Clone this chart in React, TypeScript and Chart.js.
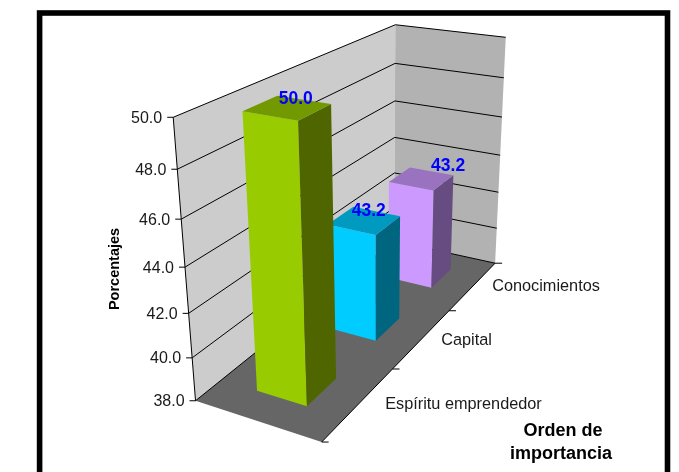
import React, { useEffect, useRef } from "react";
import { Chart, registerables, LinearScale } from "chart.js";

const categories = ["Espíritu emprendedor", "Capital", "Conocimientos"];
const values = [50.0, 43.2, 43.2];
const frontColors = ["#99CC00", "#00CCFF", "#CC99FF"];
const sideColors = ["#4F6600", "#006680", "#664C80"];
const topColors = ["#739900", "#0099BF", "#9973BF"];
const yMin = 38;
const yMax = 50;
const yStep = 2;
const FONT = "'Liberation Sans', Arial, sans-serif";

// camera calibration: [x, depth, height, screenX, screenY] of the plot box
const calibration: number[][] = [
  [0, 0, 1, 173.5, 117], [0, 0, 5 / 6, 177.3, 169.5], [0, 0, 4 / 6, 181.7, 219], [0, 0, 3 / 6, 185, 267.7],
  [0, 0, 2 / 6, 188.3, 313.7], [0, 0, 1 / 6, 191.7, 358], [0, 0, 0, 195, 400],
  [0, 1, 1, 395, 25.5], [0, 1, 5 / 6, 395, 63], [0, 1, 4 / 6, 395, 101], [0, 1, 3 / 6, 394.5, 136.7],
  [0, 1, 2 / 6, 394.5, 173.3], [0, 1, 0, 395, 241],
  [1, 1, 1, 505.7, 37], [1, 1, 5 / 6, 504, 78.3], [1, 1, 4 / 6, 502.7, 115.7], [1, 1, 3 / 6, 499.7, 155.3],
  [1, 1, 2 / 6, 498, 192.7], [1, 1, 1 / 6, 497, 229], [1, 1, 0, 494.5, 263],
  [1, 0, 0, 322, 442], [1, 0, 0, 322, 442],
];

function solveCamera(points: number[][]): number[] {
  const S = 500;
  const n = 11;
  const A: number[][] = Array.from({ length: n }, () => new Array(n + 1).fill(0));
  const add = (row: number[], rhs: number) => {
    for (let i = 0; i < n; i++) {
      for (let j = 0; j < n; j++) A[i][j] += row[i] * row[j];
      A[i][n] += row[i] * rhs;
    }
  };
  for (const [X, Z, Y, u0, v0] of points) {
    const u = u0 / S;
    const v = v0 / S;
    add([X, Y, Z, 1, 0, 0, 0, 0, -u * X, -u * Y, -u * Z], u);
    add([0, 0, 0, 0, X, Y, Z, 1, -v * X, -v * Y, -v * Z], v);
  }
  for (let c = 0; c < n; c++) {
    let p = c;
    for (let r = c + 1; r < n; r++) if (Math.abs(A[r][c]) > Math.abs(A[p][c])) p = r;
    [A[c], A[p]] = [A[p], A[c]];
    for (let r = 0; r < n; r++) {
      if (r === c) continue;
      const f = A[r][c] / A[c][c];
      for (let k = c; k <= n; k++) A[r][k] -= f * A[c][k];
    }
  }
  const out = A.map((row, i) => row[n] / row[i]);
  return out.map((q, i) => (i < 8 ? q * S : q));
}

const cam = solveCamera(calibration);
function project(x: number, depth: number, h: number): [number, number] {
  const w = cam[8] * x + cam[9] * h + cam[10] * depth + 1;
  return [
    (cam[0] * x + cam[1] * h + cam[2] * depth + cam[3]) / w,
    (cam[4] * x + cam[5] * h + cam[6] * depth + cam[7]) / w,
  ];
}

class ProjectedScale extends (LinearScale as any) {
  static id = "projected";
  static defaults = (LinearScale as any).defaults;
  getHeightFraction(value: number) {
    return (value - this.min) / (this.max - this.min);
  }
  getPixelForValue(value: number) {
    return project(0, 0, this.getHeightFraction(value))[1];
  }
  _computeLabelArea() {
    return undefined;
  }
  _computeLabelItems(chartArea: any) {
    const items = super._computeLabelItems(chartArea);
    items.forEach((item: any, i: number) => {
      const [px, py] = project(0, 0, this.getHeightFraction(this.ticks[i].value));
      item.options.translation = [px - 11, py + 1];
      item.options.textAlign = "right";
      item.options.textBaseline = "middle";
      item.textOffset = 0;
    });
    return items;
  }
}

const BAR_X0 = 0.3;
const BAR_X1 = 0.705;
const BAR_HALF_DEPTH = 0.066;
const labelNudge = [
  [9, -9],
  [5, -9],
  [27, -13],
];

function poly(ctx: CanvasRenderingContext2D, pts: [number, number][], fill: string) {
  ctx.beginPath();
  pts.forEach((p, i) => (i ? ctx.lineTo(p[0], p[1]) : ctx.moveTo(p[0], p[1])));
  ctx.closePath();
  ctx.fillStyle = fill;
  ctx.fill();
}
function line(ctx: CanvasRenderingContext2D, a: [number, number], b: [number, number]) {
  ctx.beginPath();
  ctx.moveTo(a[0], a[1]);
  ctx.lineTo(b[0], b[1]);
  ctx.stroke();
}
function text(ctx: CanvasRenderingContext2D, s: string, x: number, y: number, font: string, color: string) {
  ctx.font = font;
  ctx.fillStyle = color;
  ctx.textAlign = "center";
  ctx.textBaseline = "middle";
  ctx.fillText(s, x, y);
}

const box3dPlugin = {
  id: "box3d",
  beforeDraw(chart: any) {
    const { ctx, width, height } = chart;
    ctx.save();
    ctx.fillStyle = "#FFFFFF";
    ctx.fillRect(0, 0, width, height);
    ctx.strokeStyle = "#000000";
    ctx.lineWidth = 5.6;
    ctx.strokeRect(39.6, 13, 627.9, height + 40);
    ctx.restore();
  },
  beforeDatasetsDraw(chart: any) {
    const { ctx } = chart;
    const y = chart.scales.y;
    ctx.save();
    poly(ctx, [project(0, 0, 0), project(0, 0, 1), project(0, 1, 1), project(0, 1, 0)], "#CCCCCC");
    poly(ctx, [project(0, 1, 0), project(0, 1, 1), project(1, 1, 1), project(1, 1, 0)], "#B2B2B2");
    poly(ctx, [project(0, 0, 0), project(1, 0, 0), project(1, 1, 0), project(0, 1, 0)], "#666666");
    ctx.strokeStyle = "#000000";
    ctx.lineWidth = 1;
    y.ticks.forEach((t: any) => {
      const h = y.getHeightFraction(t.value);
      const a = project(0, 0, h);
      line(ctx, a, project(0, 1, h));
      line(ctx, project(0, 1, h), project(1, 1, h));
      line(ctx, a, [a[0] - 6, a[1]]);
    });
    line(ctx, project(0, 0, 0), project(0, 0, 1));
    line(ctx, project(1, 0, 0), project(1, 1, 0));
    categories.concat("").forEach((_, i) => {
      const p = project(1, i / categories.length, 0);
      line(ctx, p, [p[0] + 7, p[1]]);
    });
    ctx.restore();
  },
  afterDatasetsDraw(chart: any) {
    const { ctx } = chart;
    const y = chart.scales.y;
    const x = chart.scales.x;
    const data: number[] = chart.data.datasets[0].data;
    const bar = (i: number) => {
      const zc = (x.getPixelForTick(i) - x.left) / x.width;
      return { z0: zc - BAR_HALF_DEPTH, z1: zc + BAR_HALF_DEPTH, h: y.getHeightFraction(data[i]) };
    };
    ctx.save();
    for (let i = data.length - 1; i >= 0; i--) {
      const { z0, z1, h } = bar(i);
      poly(ctx, [project(BAR_X0, z0, 0), project(BAR_X1, z0, 0), project(BAR_X1, z0, h), project(BAR_X0, z0, h)], frontColors[i]);
      poly(ctx, [project(BAR_X1, z0, 0), project(BAR_X1, z1, 0), project(BAR_X1, z1, h), project(BAR_X1, z0, h)], sideColors[i]);
      poly(ctx, [project(BAR_X0, z0, h), project(BAR_X1, z0, h), project(BAR_X1, z1, h), project(BAR_X0, z1, h)], topColors[i]);
    }
    for (let i = data.length - 1; i >= 0; i--) {
      const { z0, z1, h } = bar(i);
      const a = project(BAR_X0, z0, h);
      const b = project(BAR_X1, z1, h);
      text(ctx, data[i].toFixed(1), (a[0] + b[0]) / 2 + labelNudge[i][0], (a[1] + b[1]) / 2 + labelNudge[i][1], `bold 17.5px ${FONT}`, "#0000FF");
    }
    const catFont = `16.3px ${FONT}`;
    text(ctx, categories[2], 546, 286.5, catFont, "#1A1A1A");
    text(ctx, categories[1], 466.5, 340.5, catFont, "#1A1A1A");
    text(ctx, categories[0], 463.5, 404.5, catFont, "#1A1A1A");
    const titleFont = `bold 18px ${FONT}`;
    text(ctx, "Orden de", 563, 431, titleFont, "#000000");
    text(ctx, "importancia", 561, 454, titleFont, "#000000");
    ctx.translate(115, 269);
    ctx.rotate(-Math.PI / 2);
    text(ctx, "Porcentajes", 0, 0, `bold 14.5px ${FONT}`, "#000000");
    ctx.restore();
  },
};

Chart.register(...registerables, ProjectedScale as any);

export default function App() {
  const ref = useRef<HTMLCanvasElement>(null);
  useEffect(() => {
    const chart = new Chart(ref.current!, {
      type: "bar",
      data: {
        labels: categories,
        datasets: [{ label: "Porcentajes", data: values, backgroundColor: "transparent", borderWidth: 0 }],
      },
      options: {
        animation: false,
        responsive: false,
        plugins: { legend: { display: false }, tooltip: { enabled: false } },
        scales: {
          x: { display: false },
          y: {
            type: "projected" as any,
            min: yMin,
            max: yMax,
            grid: { display: false },
            border: { display: false },
            ticks: {
              stepSize: yStep,
              autoSkip: false,
              color: "#1A1A1A",
              font: { family: FONT, size: 16 },
              callback: (v: any) => Number(v).toFixed(1),
            },
          },
        },
      },
      plugins: [box3dPlugin as any],
    });
    return () => chart.destroy();
  }, []);
  return <canvas ref={ref} width={679} height={472} style={{ position: "absolute", left: 0, top: 0, display: "block" }} />;
}
